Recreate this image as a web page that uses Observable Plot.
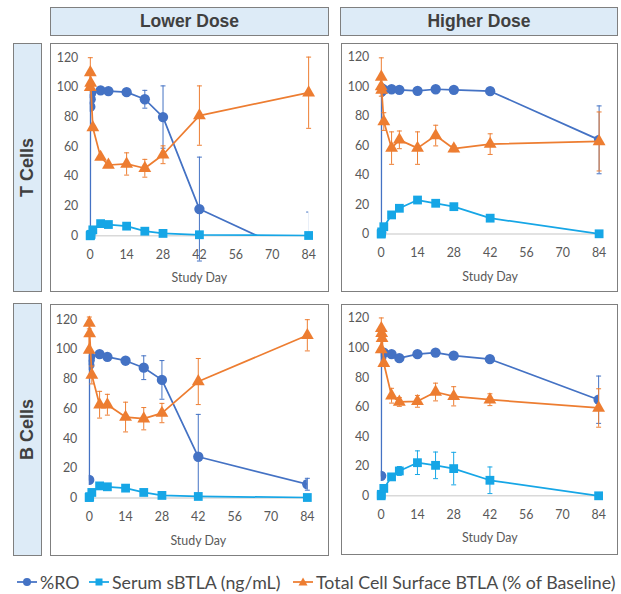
<!DOCTYPE html>
<html><head><meta charset="utf-8">
<script src="https://cdn.jsdelivr.net/npm/d3@7"></script>
<script src="https://cdn.jsdelivr.net/npm/@observablehq/plot@0.6"></script>
<style>
body{margin:0;background:#fff;font-family:Lato,"Liberation Sans",sans-serif;}
#root{position:relative;width:621px;height:594px;overflow:hidden;background:#fff}
.hdr{position:absolute;background:#ddebf7;border:1.5px solid #7f7f7f;box-sizing:border-box;display:flex;align-items:center;justify-content:center;font-family:"Liberation Sans",Arial,sans-serif;font-weight:bold;font-size:17.5px;color:#404040}
.vtxt{transform:rotate(-90deg);white-space:nowrap;font-size:18px}
.panel{position:absolute;border:1.5px solid #7f7f7f;box-sizing:border-box}
.panel svg{position:absolute;left:-1.5px;top:-1.5px}
.leg{position:absolute;top:571px;display:flex;align-items:center;font-family:Lato,sans-serif;font-size:17.8px;color:#4a4a4a;white-space:nowrap}
.leg svg{margin-right:2px}
</style></head>
<body>
<div id="root"></div>
<script>
// ---- labels ----
const colLabels = ["Lower Dose", "Higher Dose"];
const rowLabels = ["T Cells", "B Cells"];
const seriesNames = ["%RO", "Serum sBTLA (ng/mL)", "Total Cell Surface BTLA (% of Baseline)"];
const xLabel = "Study Day";
const xTicks = [0, 14, 28, 42, 56, 70, 84];
const yTicks = [0, 20, 40, 60, 80, 100, 120];
// timepoints: predose, 1h, 4h, 8h, day 1, 4, 7, 14, 21, 28, 42, 84
const days = [0, 0.04, 0.17, 0.33, 1, 4, 7, 14, 21, 28, 42, 84];

// ---- T cells, lower dose ----
const tLowRO     = [1, 87, 92, 96, null, 98, 97.5, 96.8, 92, 80, 18, -16];
const tLowROErr  = [null, null, null, null, null, null, null, null, 6, 21, 35, 32];
const tLowSB     = [0, 0.3, 0.6, 1, 4, 8.2, 7.6, 6.5, 3.1, 1.6, 0.7, 0.2];
const tLowSBErr  = [null, null, null, null, null, null, null, null, null, null, null, null];
const tLowTot    = [100, 110, 103, null, 73, 53, 47.7, 48.4, 45.5, 54.6, 81, 96.4];
const tLowTotErr = [null, 10, null, null, null, null, null, 7.5, 6, 6, 20, 24];

// ---- T cells, higher dose ----
const tHighRO     = [1, 96.5, 99, null, 98, 98.2, 97.8, 97.1, 98.2, 97.8, 96.9, 63.9];
const tHighROErr  = [null, null, null, null, null, null, null, null, null, null, null, 23];
const tHighSB     = [0, 0.5, 1.5, null, 5, 13, 17.5, 23.1, 20.9, 18.6, 10.8, 0.2];
const tHighSBErr  = [null, null, null, null, null, null, null, null, null, null, null, null];
const tHighTot    = [100, 106.5, 97.6, null, 76.3, 58.3, 63.9, 58.3, 66.8, 57.9, 61, 62.8];
const tHighTotErr = [null, 13, null, null, 6, 11, 6, 11, 7, 2, 7, 20];

// ---- B cells, lower dose ----
const bLowRO     = [12.2, 89.5, 92.8, 95, null, 96.8, 95, 92.4, 87.7, 79.5, 27.8, 9.3];
const bLowROErr  = [null, null, null, null, null, null, null, null, 8, 13, 28.5, 4];
const bLowSB     = [0.4, 0.5, 1, null, 3.8, 8.2, 7.6, 6.7, 3.8, 1.8, 1.1, 0.4];
const bLowSBErr  = [null, null, null, null, null, null, null, null, null, null, null, null];
const bLowTot    = [99.5, 117.8, 110.6, null, 82.8, 62.8, 62.8, 54.5, 53.4, 57.2, 78.4, 109.5];
const bLowTotErr = [null, 4, null, null, 6, 9, 7, 10, 7.5, 6.5, 15.5, 10.5];

// ---- B cells, higher dose ----
const bHighRO     = [13.5, 93.5, null, null, 96.9, 95.8, 93.1, 95.8, 96.9, 94.8, 92.4, 65];
const bHighROErr  = [null, null, null, null, null, null, null, null, null, null, null, 16];
const bHighSB     = [0, 1, null, null, 5, 12.8, 16.8, 22.4, 20.6, 18.4, 10.5, 0];
const bHighSBErr  = [null, null, null, null, null, null, 3, 8, 9, 11, 9, null];
const bHighTot    = [99, 113.3, 110, 106.5, 89.7, 67.7, 63.5, 63.9, 70.2, 67.3, 65, 59.4];
const bHighTotErr = [null, 7, null, null, null, 5, 3, 4, 6, 6.5, 4, 13];

const colors = ["#4472c4", "#16a6e6", "#ed7d31"];
const symbols = ["circle", "square", "triangle"];
const sizes = [5.2, 5, 4.8];

const cap = {draw(ctx) { ctx.moveTo(-2.5, 0); ctx.lineTo(2.5, 0); }};

function rows(vals, errs) {
  return days.map((d, i) => ({day: d, v: vals[i], e: errs[i]})).filter(r => r.v != null);
}

function seriesMarks(vals, errs, k, clip) {
  const r = rows(vals, errs);
  const er = r.filter(d => d.e != null).map(d => ({day: d.day, v: d.v, lo: d.v - d.e, hi: d.v + d.e}));
  const on = er.filter(d => d.v >= 0), off = er.filter(d => d.v < 0);
  const c = colors[k];
  const m = [];
  for (const [set, cl] of [[on, false], [off, true]]) {
    m.push(Plot.ruleX(set, {x: "day", y1: "lo", y2: "hi", stroke: c, strokeWidth: 1, clip: cl}));
    m.push(Plot.dot(set, {x: "day", y: "hi", symbol: cap, r: 2, stroke: c, fill: "none", strokeWidth: 1, clip: cl}));
    m.push(Plot.dot(set, {x: "day", y: "lo", symbol: cap, r: 2, stroke: c, fill: "none", strokeWidth: 1, clip: cl}));
  }
  m.push(Plot.line(r, {x: "day", y: "v", stroke: c, strokeWidth: 1.75, clip}));
  m.push(Plot.dot(r, {x: "day", y: "v", symbol: symbols[k], r: sizes[k], fill: c, clip}));
  return m;
}

function panel(series, g) {
  const marks = [
    Plot.ruleY([0], {stroke: "#d9d9d9", strokeWidth: 1.5, insetLeft: -3, insetRight: -3}),
    Plot.axisY({ticks: yTicks, tickSize: 0, tickPadding: 12, label: null, fontSize: 12.5}),
    Plot.axisX({ticks: xTicks, tickSize: 0, tickPadding: 14, fontSize: 12.5, label: xLabel, labelAnchor: "center", labelOffset: 47, labelArrow: "none"})
  ];
  series.forEach(([v, e], k) => marks.push(...seriesMarks(v, e, k, k === 0)));
  return Plot.plot({
    width: g.w, height: g.h,
    marginLeft: g.ml, marginRight: g.mr, marginTop: g.mt, marginBottom: g.h - g.mt - g.yr,
    x: {domain: [0, 84]},
    y: {domain: [0, 120]},
    style: {fontFamily: "Lato, sans-serif", fontSize: "12.5px", color: "#595959", background: "transparent", overflow: "visible"},
    marks
  });
}

const root = document.getElementById("root");
function div(cls, css, html) {
  const d = document.createElement("div");
  d.className = cls; d.style.cssText = css;
  if (html != null) d.innerHTML = html;
  root.appendChild(d);
  return d;
}

// column headers
div("hdr", "left:50px;top:7px;width:279px;height:29px;", colLabels[0]);
div("hdr", "left:340px;top:7px;width:278px;height:29px;", colLabels[1]);
// row headers
div("hdr", "left:12.5px;top:43px;width:29.5px;height:249px;", `<span class="vtxt">${rowLabels[0]}</span>`);
div("hdr", "left:12.5px;top:303px;width:29.5px;height:253px;", `<span class="vtxt">${rowLabels[1]}</span>`);

const panels = [
  {x: 50, y: 43, g: {w: 279, h: 249, ml: 40, mr: 19, mt: 14.3, yr: 179.4},
   s: [[tLowRO, tLowROErr], [tLowSB, tLowSBErr], [tLowTot, tLowTotErr]]},
  {x: 341, y: 43, g: {w: 277, h: 249, ml: 40, mr: 17.5, mt: 13.7, yr: 178.3},
   s: [[tHighRO, tHighROErr], [tHighSB, tHighSBErr], [tHighTot, tHighTotErr]]},
  {x: 50, y: 304, g: {w: 279, h: 252, ml: 39, mr: 20.3, mt: 15.3, yr: 179.7},
   s: [[bLowRO, bLowROErr], [bLowSB, bLowSBErr], [bLowTot, bLowTotErr]]},
  {x: 341, y: 304, g: {w: 277, h: 251, ml: 40, mr: 18, mt: 14, yr: 178.7},
   s: [[bHighRO, bHighROErr], [bHighSB, bHighSBErr], [bHighTot, bHighTotErr]]}
];
for (const p of panels) {
  const d = div("panel", `left:${p.x}px;top:${p.y}px;width:${p.g.w}px;height:${p.g.h}px;`);
  d.appendChild(panel(p.s, p.g));
}

// legend
const legX = [16, 88, 292];
function icon(k) {
  const c = colors[k];
  let mk;
  if (k === 0) mk = `<circle cx="11" cy="6" r="4" fill="${c}"/>`;
  else if (k === 1) mk = `<rect x="7.5" y="2.5" width="7" height="7" fill="${c}"/>`;
  else mk = `<path d="M11,1.5L15.5,9.5L6.5,9.5Z" fill="${c}"/>`;
  return `<svg width="22" height="12"><line x1="1" x2="21" y1="6" y2="6" stroke="${c}" stroke-width="1.75"/>${mk}</svg>`;
}
seriesNames.forEach((n, k) => {
  div("leg", `left:${legX[k]}px;`, icon(k) + `<span>${n}</span>`);
});
</script>
</body></html>
